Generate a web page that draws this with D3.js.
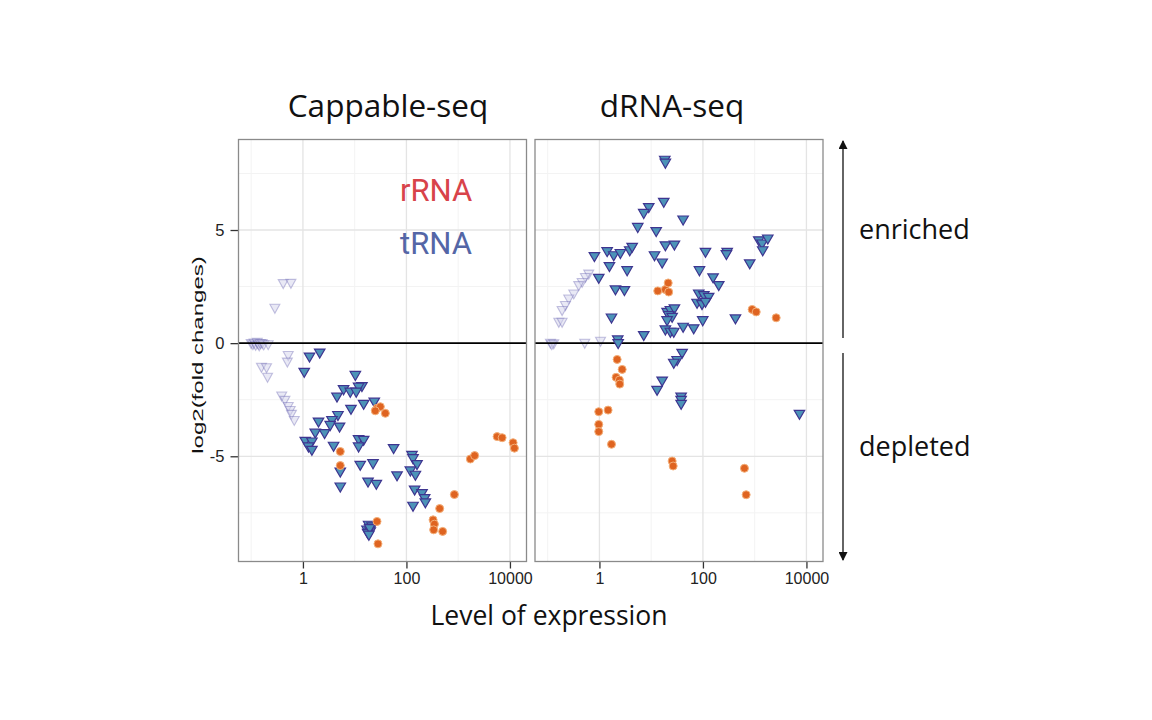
<!DOCTYPE html>
<html><head><meta charset="utf-8">
<script src="https://cdn.jsdelivr.net/npm/d3@7"></script>
<style>body{margin:0;background:#fff}svg{display:block}</style>
</head><body>
<svg id="c" width="1152" height="720"></svg>
<script>
// ---- data: [level of expression, log2 fold change] ----
const panels = ["Cappable-seq", "dRNA-seq"];
const xTicks = [1, 100, 10000];
const xTickLabels = ["1", "100", "10000"];
const yTicks = [-5, 0, 5];
const yTickLabels = ["-5", "0", "5"];

const capTRNAlow = [[0.416,2.65],[0.586,2.66],[0.287,1.56],[0.100,0.0],[0.108,-0.05],[0.114,0.02],[0.122,-0.08],[0.131,0.05],[0.137,-0.03],[0.143,-0.1],[0.150,0.0],[0.163,0.0],[0.175,-0.06],[0.213,-0.05],
  [0.52,-0.53],[0.50,-0.82],[0.158,-1.05],[0.198,-1.07],[0.207,-1.49],[0.389,-2.32],[0.449,-2.51],[0.52,-2.78],[0.568,-2.96],[0.60,-3.13],[0.68,-3.40]];
const capTRNA = [[1.34,-0.60],[2.11,-0.42],[1.06,-1.27],[10.3,-1.41],[13.8,-1.90],[11.9,-1.93],[6.10,-2.04],[8.22,-2.15],[10.7,-2.15],[4.55,-2.37],
  [14.9,-2.69],[23.9,-2.59],[8.48,-2.91],[4.75,-3.18],[3.64,-3.40],[3.37,-3.62],[5.10,-3.69],[2.00,-3.47],[1.73,-3.96],[2.62,-3.98],
  [1.11,-4.32],[1.49,-4.35],[1.28,-4.57],[1.49,-4.72],[3.91,-4.54],[11.9,-4.25],[14.9,-4.28],[11.9,-4.57],[56.5,-4.64],[5.27,-5.68],[5.27,-6.34],
  [12.8,-5.38],[22.6,-5.31],[18.1,-6.12],[26.2,-6.22],[65.8,-5.85],[128,-4.94],[134,-5.09],[160,-5.35],[119,-5.63],[149,-5.82],
  [144,-6.48],[200,-6.63],[225,-6.85],[232,-7.04],[134,-7.19],
  [18.6,-8.03],[21.6,-8.10],[17.3,-8.25],[20.0,-8.32],[17.8,-8.39],[19.5,-8.18],[18.8,-8.47]];
const capRRNA = [[27.0,-2.88],[31.3,-2.81],[39.1,-3.10],[25.0,-2.99],[5.27,-4.79],[5.27,-5.41],[5650,-4.13],[7060,-4.18],[11500,-4.40],[12200,-4.64],
  [1720,-5.12],[2080,-4.97],[844,-6.69],[439,-7.31],[327,-7.81],[347,-8.00],[336,-8.25],[501,-8.32],[27.0,-7.88],[28.2,-8.87]];

const dTRNAlow = [[0.621,3.07],[0.536,2.92],[0.463,2.70],[0.398,2.56],[0.319,2.19],[0.255,1.97],[0.220,1.68],[0.190,1.46],[0.164,0.94],[0.190,0.94],
  [0.113,0.01],[0.131,-0.01],[0.120,-0.05],[0.520,0.01],[1.05,0.10]];
const dTRNA = [[18.3,8.10],[18.8,7.97],[17.5,6.24],[8.97,6.01],[7.18,5.75],[41.4,5.46],[5.50,5.13],[12.5,4.95],[18.8,4.32],[28.1,4.35],
  [1.41,4.06],[1.89,3.88],[2.54,3.98],[3.85,4.10],[4.29,4.25],[0.80,3.84],[11.6,3.88],[16.3,3.56],[1.56,3.40],[3.43,3.22],[0.97,2.88],
  [2.04,2.37],[3.04,2.34],[1.71,1.13],[2.26,0.16],[7.18,0.35],[20.3,1.38],[23.5,1.46],[28.1,1.53],[21.8,1.24],[25.4,1.16],[20.3,1.01],
  [18.8,0.60],[23.5,0.50],[27.3,0.50],[41.4,0.72],[66.3,0.65],[99.1,1.01],
  [83,2.19],[104,2.12],[129,2.04],[77,1.78],[96,1.72],[112,1.82],
  [85.6,3.22],[112,4.03],[157,2.90],[202,2.56],[294,4.03],[284,3.93],[425,1.09],[802,3.52],[1200,4.54],[1390,4.40],[1790,4.62],[1430,4.10],
  [39.6,-0.43],[31.7,-0.75],[27.3,-0.87],[16.3,-1.66],[13.0,-2.07],[37.9,-2.37],[37.9,-2.51],[37.9,-2.69],[7330,-3.13],[2.30,0.0]];
const dRRNA = [[13.4,2.31],[18.8,2.37],[21.3,2.66],[21.8,2.26],[893,1.49],[1070,1.38],[2600,1.12],
  [2.20,-0.72],[2.75,-1.16],[2.10,-1.51],[2.43,-1.63],[2.47,-1.81],[0.97,-3.03],[1.47,-2.96],[0.97,-3.59],[0.97,-3.91],[1.71,-4.47],
  [25.4,-5.21],[26.6,-5.43],[634,-5.53],[684,-6.70]];

const panelData = [
  {low: capTRNAlow, trna: capTRNA, rrna: capRRNA},
  {low: dTRNAlow, trna: dTRNA, rrna: dRRNA}
];

// ---- layout ----
const svg = d3.select("#c");
const panelX = [238.5, 535];
const titleX = [388, 672];
const pW = 288, pTop = 139.5, pH = 422;
const x = d3.scaleLog().domain([Math.pow(10,-1.245), Math.pow(10,4.32)]).range([0, pW]);
const y = d3.scaleLinear().domain([-9.65, 9.0]).range([pH, 0]);

const triPath = (w, h) => `M${-w/2},${-h*0.4}L${w/2},${-h*0.4}L0,${h*0.6}Z`;

panels.forEach((name, i) => {
  const g = svg.append("g").attr("transform", `translate(${panelX[i]},${pTop})`);
  g.append("rect").attr("width", pW).attr("height", pH).attr("fill", "#fff");
  // minor grid
  [0.1, 10, 1000].forEach(v => g.append("line").attr("x1", x(v)).attr("x2", x(v)).attr("y1", 0).attr("y2", pH)
    .attr("stroke", "#f3f3f3").attr("stroke-width", 1));
  [-7.5, -2.5, 2.5, 7.5].forEach(v => g.append("line").attr("y1", y(v)).attr("y2", y(v)).attr("x1", 0).attr("x2", pW)
    .attr("stroke", "#f3f3f3").attr("stroke-width", 1));
  // major grid
  xTicks.forEach(v => g.append("line").attr("x1", x(v)).attr("x2", x(v)).attr("y1", 0).attr("y2", pH)
    .attr("stroke", "#e4e4e4").attr("stroke-width", 1.3));
  yTicks.forEach(v => g.append("line").attr("y1", y(v)).attr("y2", y(v)).attr("x1", 0).attr("x2", pW)
    .attr("stroke", "#e4e4e4").attr("stroke-width", 1.3));

  // x axis
  const xa = g.append("g").attr("transform", `translate(0,${pH})`)
    .call(d3.axisBottom(x).tickValues(xTicks).tickFormat((d, k) => xTickLabels[k]).tickSize(7).tickPadding(4));
  xa.select(".domain").remove();
  xa.selectAll("line").attr("stroke", "#333").attr("stroke-width", 1.3);
  xa.selectAll("text").attr("font-family", "Liberation Sans, Arial, sans-serif").attr("font-size", 16).attr("fill", "#222");

  if (i === 0) {
    const ya = g.append("g").call(d3.axisLeft(y).tickValues(yTicks).tickFormat((d, k) => yTickLabels[k]).tickSize(8).tickPadding(6));
    ya.select(".domain").remove();
    ya.selectAll("line").attr("stroke", "#333").attr("stroke-width", 1.3);
    ya.selectAll("text").attr("font-family", "Liberation Sans, Arial, sans-serif").attr("font-size", 16.5).attr("fill", "#222");
  }

  const d = panelData[i];
  // faded low-expression tRNA
  g.selectAll(".low").data(d.low).join("path").attr("class", "low")
    .attr("d", triPath(10, 9)).attr("transform", p => `translate(${x(p[0])},${y(p[1])})`)
    .attr("fill", "#d4d4ec").attr("fill-opacity", 0.5).attr("stroke", "#5a52a8").attr("stroke-opacity", 0.35).attr("stroke-width", 1.1);
  // zero line
  g.append("line").attr("x1", 0).attr("x2", pW).attr("y1", y(0)).attr("y2", y(0)).attr("stroke", "#000").attr("stroke-width", 1.8);
  // tRNA
  g.selectAll(".trna").data(d.trna).join("path").attr("class", "trna")
    .attr("d", triPath(10.5, 9)).attr("transform", p => `translate(${x(p[0])},${y(p[1])})`)
    .attr("fill", "#4c93b8").attr("stroke", "#3e3590").attr("stroke-width", 1.2);
  // rRNA
  g.selectAll(".rrna").data(d.rrna).join("circle").attr("class", "rrna")
    .attr("cx", p => x(p[0])).attr("cy", p => y(p[1])).attr("r", 4)
    .attr("fill", "#df6421").attr("stroke", "#f4b07a").attr("stroke-width", 1);

  // border
  g.append("rect").attr("width", pW).attr("height", pH).attr("fill", "none").attr("stroke", "#8a8a8a").attr("stroke-width", 1.3);

  // panel title
  svg.append("text").attr("x", titleX[i]).attr("y", 117).attr("text-anchor", "middle")
    .attr("font-family", "Open Sans, sans-serif").attr("font-size", 31.5).attr("fill", "#111").text(name);
});

// legend text
svg.append("text").attr("x", 400).attr("y", 201).attr("font-family", "Roboto, sans-serif").attr("font-size", 31)
  .attr("fill", "#d8434a").text("rRNA");
svg.append("text").attr("x", 400).attr("y", 254).attr("font-family", "Roboto, sans-serif").attr("font-size", 31)
  .attr("fill", "#5466a6").text("tRNA");

// axis titles
svg.append("text").attr("x", 549).attr("y", 625).attr("text-anchor", "middle")
  .attr("font-family", "Open Sans, sans-serif").attr("font-size", 26.5).attr("fill", "#111").text("Level of expression");
svg.append("text").attr("transform", "translate(202.5,355) rotate(-90) scale(1.55,1)").attr("text-anchor", "middle")
  .attr("font-family", "Liberation Sans, Arial, sans-serif").attr("font-size", 15.5).attr("fill", "#111").text("log2(fold changes)");

// arrows
const defs = svg.append("defs");
defs.append("marker").attr("id", "ah").attr("viewBox", "0 0 10 10").attr("refX", 9).attr("refY", 5)
  .attr("markerWidth", 12).attr("markerHeight", 9).attr("orient", "auto-start-reverse").attr("markerUnits", "userSpaceOnUse")
  .append("path").attr("d", "M0,0L10,5L0,10Z").attr("fill", "#111");
svg.append("line").attr("x1", 843).attr("x2", 843).attr("y1", 338).attr("y2", 141)
  .attr("stroke", "#111").attr("stroke-width", 1.3).attr("marker-end", "url(#ah)");
svg.append("line").attr("x1", 843).attr("x2", 843).attr("y1", 353).attr("y2", 560)
  .attr("stroke", "#111").attr("stroke-width", 1.3).attr("marker-end", "url(#ah)");
svg.append("text").attr("x", 859).attr("y", 239).attr("font-family", "Open Sans, sans-serif").attr("font-size", 27)
  .attr("fill", "#111").text("enriched");
svg.append("text").attr("x", 859).attr("y", 456).attr("font-family", "Open Sans, sans-serif").attr("font-size", 27)
  .attr("fill", "#111").text("depleted");
</script>
</body></html>
